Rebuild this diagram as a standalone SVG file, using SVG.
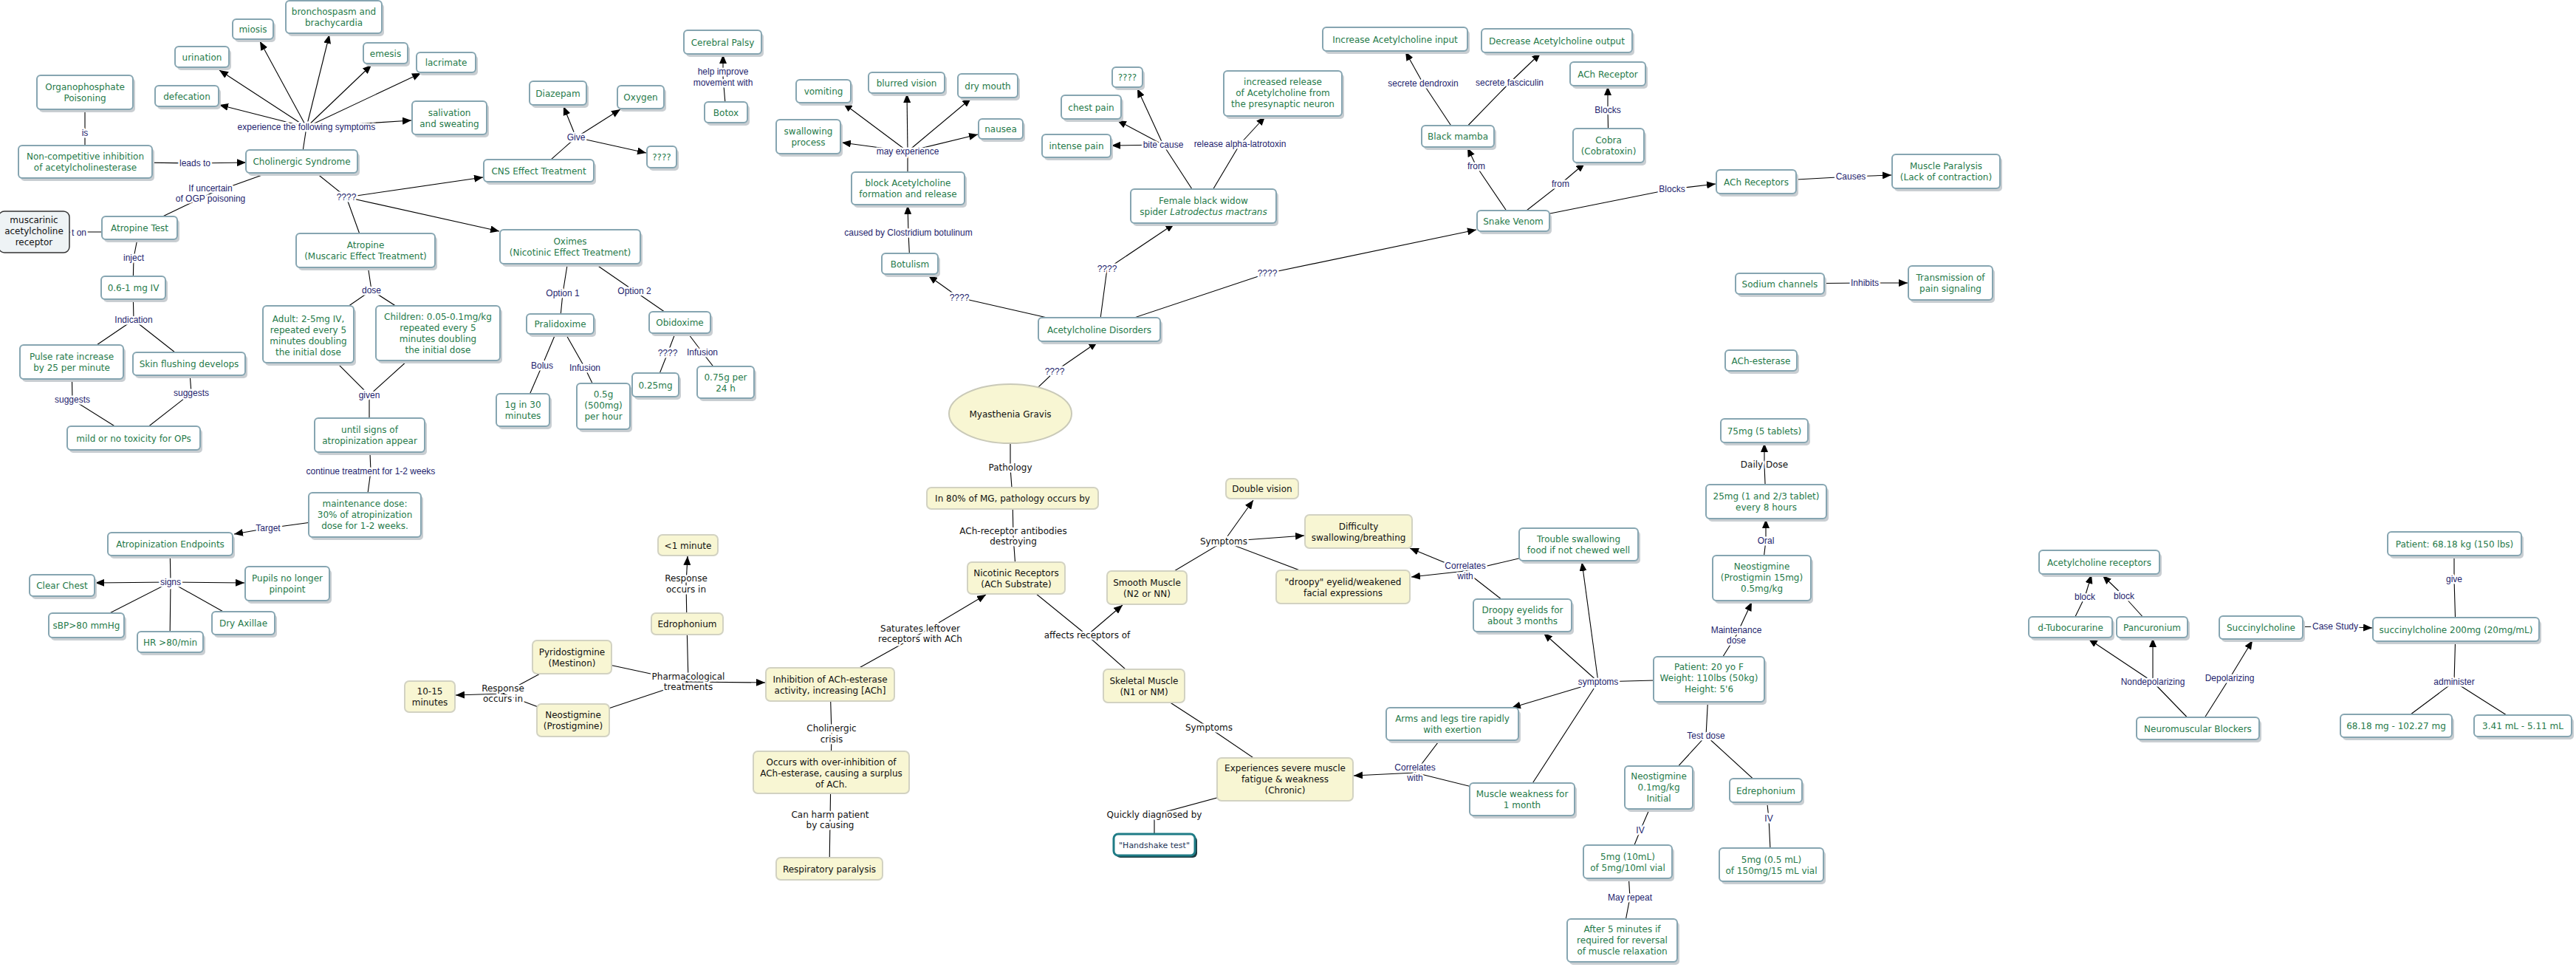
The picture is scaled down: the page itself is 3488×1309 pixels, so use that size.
<svg xmlns="http://www.w3.org/2000/svg" width="3488" height="1309" viewBox="0 0 3488 1309">
<defs>
<marker id="ah" markerUnits="userSpaceOnUse" markerWidth="13" markerHeight="10" refX="12" refY="5" orient="auto"><path d="M0,0 L12,5 L0,10 z" fill="#000"/></marker>
<style>
.sh{fill:#c9ced2;rx:5px}
.bx{fill:#fff;stroke:#86a5b1;stroke-width:2;rx:5px}
.tx{font-family:"DejaVu Sans",Verdana,sans-serif;font-size:12px;fill:#267a4a;text-anchor:middle}
.yb{fill:#f8f6d3;stroke:#d2d2c2;stroke-width:2;rx:6px}
.yt{font-family:"DejaVu Sans",Verdana,sans-serif;font-size:12px;fill:#111;text-anchor:middle}
.c{stroke:#000;stroke-width:1.1;fill:none}
.a{stroke:#000;stroke-width:1.1;fill:none;marker-end:url(#ah)}
.l{font-family:"Liberation Sans",Arial,sans-serif;font-size:12px;fill:#1e1e6e;text-anchor:middle;stroke:#fff;stroke-width:5px;paint-order:stroke;stroke-linejoin:round}
.lk{font-family:"DejaVu Sans",Verdana,sans-serif;font-size:12px;fill:#111;text-anchor:middle;stroke:#fff;stroke-width:5px;paint-order:stroke;stroke-linejoin:round}
</style>
</defs>
<rect width="3488" height="1309" fill="#fff"/>
<g id="connectors">
<path class="c" d="M115 125L115 180L115 219 M115 219L264 221 M408 218L415 172 M408 218L285 262L189 308 M408 218L469 267 M469 267L495 339 M60 314L160 314 M189 308L181 349L180 389L181 433 M181 433L97 490 M181 433L256 492 M97 490L98 541L181 593 M256 492L259 532L181 593 M495 339L503 393L417 452 M503 393L593 451 M417 452L500 535L593 451 M500 535L500 589L502 638L494 697L363 715 M230 736L231 788L117 846 M231 788L230 869 M231 788L329 843 M772 334L762 397L758 438L734 495L708 555 M758 438L792 498L817 550 M772 334L859 394L920 436L904 478L887 521 M920 436L951 477L982 517 M729 231L780 186 M983 152L979 104 M1229 255L1229 205 M1232 357L1230 315 M1488 446L1299 403 M1488 446L1499 364 M1488 446L1716 370 M1629 279L1575 196 M1629 279L1679 195 M1974 184L1927 113 M1974 184L2044 112 M2178 197L2177 149 M2049 299L1999 225 M2049 299L2113 249 M2049 299L2264 256 M2378 246L2506 239 M2410 384L2525 383 M1368 560L1428 503 M1368 560L1368 633L1371 674L1372 726L1376 782L1472 860L1549 928L1637 985L1740 1055L1563 1103L1563 1143 M1124 926L1246 858 M930 844L929 790 M774 889L681 939 M776 975L681 939 M774 889L932 923 M776 975L932 923 M930 844L932 923 M1124 926L1126 993L1125 1045L1124 1110L1123 1176 M1553 795L1657 733L1818 794 M2137 737L1984 773 M2061 833L1984 773 M2314 919L2164 923L2061 1082 M1966 980L1916 1046 M2061 1082L1916 1046 M2314 919L2310 996L2246 1066L2221 1124L2204 1166L2207 1215L2196 1273 M2310 996L2391 1070L2395 1108L2398 1170 M2314 919L2351 860 M2385 782L2391 732 M2391 679L2389 629 M2803 849L2823 808 M2914 849L2876 807 M3061 849L3162 848 M3323 736L3323 784L3325 852L3323 923L3244 982 M3323 923L3416 982 M2976 986L2915 923 M2976 986L3019 918"/>
<path class="a" d="M264 221L333 220"/>
<path class="a" d="M415 172L297 142"/>
<path class="a" d="M415 172L297 95"/>
<path class="a" d="M415 172L352 56"/>
<path class="a" d="M415 172L446 47"/>
<path class="a" d="M415 172L503 88"/>
<path class="a" d="M415 172L570 99"/>
<path class="a" d="M415 172L557 163"/>
<path class="a" d="M469 267L654 240"/>
<path class="a" d="M469 267L676 313"/>
<path class="a" d="M363 715L317 723"/>
<path class="a" d="M231 788L129 789"/>
<path class="a" d="M231 788L331 789"/>
<path class="a" d="M780 186L763 144"/>
<path class="a" d="M780 186L840 148"/>
<path class="a" d="M780 186L875 207"/>
<path class="a" d="M979 104L979 74"/>
<path class="a" d="M1229 205L1142 140"/>
<path class="a" d="M1229 205L1228 127"/>
<path class="a" d="M1229 205L1315 133"/>
<path class="a" d="M1229 205L1140 193"/>
<path class="a" d="M1229 205L1324 182"/>
<path class="a" d="M1230 315L1229 278"/>
<path class="a" d="M1299 403L1257 373"/>
<path class="a" d="M1499 364L1590 303"/>
<path class="a" d="M1716 370L1999 311"/>
<path class="a" d="M1575 196L1540 120"/>
<path class="a" d="M1575 196L1513 163"/>
<path class="a" d="M1575 196L1505 197"/>
<path class="a" d="M1679 195L1713 158"/>
<path class="a" d="M1927 113L1903 70"/>
<path class="a" d="M2044 112L2086 72"/>
<path class="a" d="M2177 149L2177 117"/>
<path class="a" d="M1999 225L1987 200"/>
<path class="a" d="M2113 249L2146 221"/>
<path class="a" d="M2264 256L2323 249"/>
<path class="a" d="M2506 239L2561 237"/>
<path class="a" d="M2525 383L2583 383"/>
<path class="a" d="M1428 503L1486 463"/>
<path class="a" d="M1472 860L1520 819"/>
<path class="a" d="M1246 858L1335 805"/>
<path class="a" d="M929 790L931 753"/>
<path class="a" d="M681 939L617 941"/>
<path class="a" d="M932 923L1036 924"/>
<path class="a" d="M1657 733L1697 677"/>
<path class="a" d="M1657 733L1766 725"/>
<path class="a" d="M1984 773L1909 742"/>
<path class="a" d="M1984 773L1911 781"/>
<path class="a" d="M2164 923L2090 857"/>
<path class="a" d="M2164 923L2142 761"/>
<path class="a" d="M2164 923L2047 958"/>
<path class="a" d="M1916 1046L1833 1050"/>
<path class="a" d="M2351 860L2372 815"/>
<path class="a" d="M2391 732L2391 703"/>
<path class="a" d="M2389 629L2389 600"/>
<path class="a" d="M2823 808L2832 778"/>
<path class="a" d="M2876 807L2847 779"/>
<path class="a" d="M3162 848L3212 850"/>
<path class="a" d="M2915 923L2828 865"/>
<path class="a" d="M2915 923L2915 864"/>
<path class="a" d="M3019 918L3050 867"/>
</g>
<g id="connector-labels">
<text class="l" x="115" y="184">is</text>
<text class="l" x="264" y="225">leads to</text>
<text class="l" x="415" y="176">experience the following symptoms</text>
<text class="l"><tspan x="285" y="259">If uncertain</tspan><tspan x="285" y="273">of OGP poisoning</tspan></text>
<text class="l" x="469" y="271">????</text>
<text class="l" x="107" y="319">t on</text>
<text class="l" x="181" y="353">inject</text>
<text class="l" x="181" y="437">Indication</text>
<text class="l" x="98" y="545">suggests</text>
<text class="l" x="259" y="536">suggests</text>
<text class="l" x="503" y="397">dose</text>
<text class="l" x="500" y="539">given</text>
<text class="l" x="502" y="642">continue treatment for 1-2 weeks</text>
<text class="l" x="363" y="719">Target</text>
<text class="l" x="231" y="792">signs</text>
<text class="l" x="762" y="401">Option 1</text>
<text class="l" x="859" y="398">Option 2</text>
<text class="l" x="734" y="499">Bolus</text>
<text class="l" x="792" y="502">Infusion</text>
<text class="l" x="904" y="482">????</text>
<text class="l" x="951" y="481">Infusion</text>
<text class="l" x="780" y="190">Give</text>
<text class="l"><tspan x="979" y="101">help improve</tspan><tspan x="979" y="116">movement with</tspan></text>
<text class="l" x="1229" y="209">may experience</text>
<text class="l" x="1230" y="319">caused by Clostridium botulinum</text>
<text class="l" x="1299" y="407">????</text>
<text class="l" x="1499" y="368">????</text>
<text class="l" x="1716" y="374">????</text>
<text class="l" x="1575" y="200">bite cause</text>
<text class="l" x="1679" y="199">release alpha-latrotoxin</text>
<text class="l" x="1927" y="117">secrete dendroxin</text>
<text class="l" x="2044" y="116">secrete fasciculin</text>
<text class="l" x="2177" y="153">Blocks</text>
<text class="l" x="1999" y="229">from</text>
<text class="l" x="2113" y="253">from</text>
<text class="l" x="2264" y="260">Blocks</text>
<text class="l" x="2506" y="243">Causes</text>
<text class="l" x="2525" y="387">Inhibits</text>
<text class="l" x="1428" y="507">????</text>
<text class="l" x="2391" y="736">Oral</text>
<text class="l"><tspan x="2351" y="857">Maintenance</tspan><tspan x="2351" y="871">dose</tspan></text>
<text class="l"><tspan x="1984" y="770">Correlates</tspan><tspan x="1984" y="784">with</tspan></text>
<text class="l" x="2164" y="927">symptoms</text>
<text class="l"><tspan x="1916" y="1043">Correlates</tspan><tspan x="1916" y="1057">with</tspan></text>
<text class="l" x="2310" y="1000">Test dose</text>
<text class="l" x="2221" y="1128">IV</text>
<text class="l" x="2395" y="1112">IV</text>
<text class="l" x="2207" y="1219">May repeat</text>
<text class="l" x="2823" y="812">block</text>
<text class="l" x="2876" y="811">block</text>
<text class="l" x="3162" y="852">Case Study</text>
<text class="l" x="3323" y="788">give</text>
<text class="l" x="2915" y="927">Nondepolarizing</text>
<text class="l" x="3019" y="922">Depolarizing</text>
<text class="l" x="3323" y="927">administer</text>
<text class="lk" x="1368" y="637">Pathology</text>
<text class="lk"><tspan x="1372" y="723">ACh-receptor antibodies</tspan><tspan x="1372" y="737">destroying</tspan></text>
<text class="lk"><tspan x="929" y="787">Response</tspan><tspan x="929" y="802">occurs in</tspan></text>
<text class="lk" x="1657" y="737">Symptoms</text>
<text class="lk"><tspan x="1246" y="855">Saturates leftover</tspan><tspan x="1246" y="869">receptors with ACh</tspan></text>
<text class="lk" x="1472" y="864">affects receptors of</text>
<text class="lk"><tspan x="681" y="936">Response</tspan><tspan x="681" y="950">occurs in</tspan></text>
<text class="lk"><tspan x="932" y="920">Pharmacological</tspan><tspan x="932" y="934">treatments</tspan></text>
<text class="lk"><tspan x="1126" y="990">Cholinergic</tspan><tspan x="1126" y="1005">crisis</tspan></text>
<text class="lk"><tspan x="1124" y="1107">Can harm patient</tspan><tspan x="1124" y="1121">by causing</tspan></text>
<text class="lk" x="1637" y="989">Symptoms</text>
<text class="lk" x="1563" y="1107">Quickly diagnosed by</text>
<text class="lk" x="2389" y="633">Daily Dose</text>
</g>
<g id="nodes">
<g id="n-organo"><rect class="sh" x="53" y="106" width="130" height="46"/><rect class="bx" x="50" y="102" width="130" height="46"/><text class="tx"><tspan x="115" y="122">Organophosphate</tspan><tspan x="115" y="137">Poisoning</tspan></text></g>
<g id="n-noncomp"><rect class="sh" x="28" y="201" width="181" height="44"/><rect class="bx" x="25" y="197" width="181" height="44"/><text class="tx"><tspan x="115.5" y="216">Non-competitive inhibition</tspan><tspan x="115.5" y="231">of acetylcholinesterase</tspan></text></g>
<g id="n-cholinergic"><rect class="sh" x="336" y="207" width="151" height="31"/><rect class="bx" x="333" y="203" width="151" height="31"/><text class="tx" x="408.5" y="223">Cholinergic Syndrome</text></g>
<g id="n-defecation"><rect class="sh" x="213" y="120" width="86" height="28"/><rect class="bx" x="210" y="116" width="86" height="28"/><text class="tx" x="253" y="134.5">defecation</text></g>
<g id="n-urination"><rect class="sh" x="240" y="67" width="73" height="28"/><rect class="bx" x="237" y="63" width="73" height="28"/><text class="tx" x="273.5" y="81.5">urination</text></g>
<g id="n-miosis"><rect class="sh" x="318" y="30" width="55" height="27"/><rect class="bx" x="315" y="26" width="55" height="27"/><text class="tx" x="342.5" y="44">miosis</text></g>
<g id="n-broncho"><rect class="sh" x="390" y="5" width="130" height="44"/><rect class="bx" x="387" y="1" width="130" height="44"/><text class="tx"><tspan x="452" y="20">bronchospasm and</tspan><tspan x="452" y="35">brachycardia</tspan></text></g>
<g id="n-emesis"><rect class="sh" x="495" y="62" width="60" height="28"/><rect class="bx" x="492" y="58" width="60" height="28"/><text class="tx" x="522" y="76.5">emesis</text></g>
<g id="n-lacrimate"><rect class="sh" x="567" y="75" width="80" height="27"/><rect class="bx" x="564" y="71" width="80" height="27"/><text class="tx" x="604" y="89">lacrimate</text></g>
<g id="n-salivation"><rect class="sh" x="561" y="141" width="101" height="45"/><rect class="bx" x="558" y="137" width="101" height="45"/><text class="tx"><tspan x="608.5" y="156.5">salivation</tspan><tspan x="608.5" y="171.5">and sweating</tspan></text></g>
<g id="n-cns"><rect class="sh" x="658" y="220" width="149" height="30"/><rect class="bx" x="655" y="216" width="149" height="30"/><text class="tx" x="729.5" y="235.5">CNS Effect Treatment</text></g>
<g id="n-diazepam"><rect class="sh" x="720" y="114" width="77" height="32"/><rect class="bx" x="717" y="110" width="77" height="32"/><text class="tx" x="755.5" y="130.5">Diazepam</text></g>
<g id="n-oxygen"><rect class="sh" x="839" y="120" width="63" height="31"/><rect class="bx" x="836" y="116" width="63" height="31"/><text class="tx" x="867.5" y="136">Oxygen</text></g>
<g id="n-q-give"><rect class="sh" x="879" y="202" width="40" height="29"/><rect class="bx" x="876" y="198" width="40" height="29"/><text class="tx" x="896" y="217">????</text></g>
<g id="n-muscarinic"><rect x="-2" y="286" width="96" height="56" rx="8" fill="#eef3f5" stroke="#333" stroke-width="1.5"/><text class="yt"><tspan x="46" y="302">muscarinic</tspan><tspan x="46" y="317">acetylcholine</tspan><tspan x="46" y="332">receptor</tspan></text></g>
<g id="n-atropine-test"><rect class="sh" x="141" y="297" width="102" height="31"/><rect class="bx" x="138" y="293" width="102" height="31"/><text class="tx" x="189" y="313">Atropine Test</text></g>
<g id="n-atropine"><rect class="sh" x="404" y="320" width="188" height="46"/><rect class="bx" x="401" y="316" width="188" height="46"/><text class="tx"><tspan x="495" y="336">Atropine</tspan><tspan x="495" y="351">(Muscaric Effect Treatment)</tspan></text></g>
<g id="n-oximes"><rect class="sh" x="680" y="315" width="190" height="46"/><rect class="bx" x="677" y="311" width="190" height="46"/><text class="tx"><tspan x="772" y="331">Oximes</tspan><tspan x="772" y="346">(Nicotinic Effect Treatment)</tspan></text></g>
<g id="n-06mg"><rect class="sh" x="140" y="378" width="87" height="31"/><rect class="bx" x="137" y="374" width="87" height="31"/><text class="tx" x="180.5" y="394">0.6-1 mg IV</text></g>
<g id="n-pulse"><rect class="sh" x="30" y="471" width="140" height="46"/><rect class="bx" x="27" y="467" width="140" height="46"/><text class="tx"><tspan x="97" y="487">Pulse rate increase</tspan><tspan x="97" y="502">by 25 per minute</tspan></text></g>
<g id="n-skin"><rect class="sh" x="183" y="481" width="152" height="31"/><rect class="bx" x="180" y="477" width="152" height="31"/><text class="tx" x="256" y="497">Skin flushing develops</text></g>
<g id="n-mild"><rect class="sh" x="94" y="581" width="180" height="32"/><rect class="bx" x="91" y="577" width="180" height="32"/><text class="tx" x="181" y="597.5">mild or no toxicity for OPs</text></g>
<g id="n-adult"><rect class="sh" x="359" y="418" width="123" height="77"/><rect class="bx" x="356" y="414" width="123" height="77"/><text class="tx"><tspan x="417.5" y="436">Adult: 2-5mg IV,</tspan><tspan x="417.5" y="451">repeated every 5</tspan><tspan x="417.5" y="466">minutes doubling</tspan><tspan x="417.5" y="481">the initial dose</tspan></text></g>
<g id="n-children"><rect class="sh" x="512" y="418" width="168" height="74"/><rect class="bx" x="509" y="414" width="168" height="74"/><text class="tx"><tspan x="593" y="433">Children: 0.05-0.1mg/kg</tspan><tspan x="593" y="448">repeated every 5</tspan><tspan x="593" y="463">minutes doubling</tspan><tspan x="593" y="478">the initial dose</tspan></text></g>
<g id="n-pralidoxime"><rect class="sh" x="716" y="429" width="91" height="27"/><rect class="bx" x="713" y="425" width="91" height="27"/><text class="tx" x="758.5" y="443">Pralidoxime</text></g>
<g id="n-1g"><rect class="sh" x="675" y="537" width="72" height="44"/><rect class="bx" x="672" y="533" width="72" height="44"/><text class="tx"><tspan x="708" y="552">1g in 30</tspan><tspan x="708" y="567">minutes</tspan></text></g>
<g id="n-05g"><rect class="sh" x="784" y="523" width="72" height="62"/><rect class="bx" x="781" y="519" width="72" height="62"/><text class="tx"><tspan x="817" y="538">0.5g</tspan><tspan x="817" y="553">(500mg)</tspan><tspan x="817" y="568">per hour</tspan></text></g>
<g id="n-025mg"><rect class="sh" x="859" y="509" width="63" height="32"/><rect class="bx" x="856" y="505" width="63" height="32"/><text class="tx" x="887.5" y="525.5">0.25mg</text></g>
<g id="n-075g"><rect class="sh" x="947" y="500" width="77" height="43"/><rect class="bx" x="944" y="496" width="77" height="43"/><text class="tx"><tspan x="982.5" y="514.5">0.75g per</tspan><tspan x="982.5" y="529.5">24 h</tspan></text></g>
<g id="n-obidoxime"><rect class="sh" x="882" y="426" width="83" height="29"/><rect class="bx" x="879" y="422" width="83" height="29"/><text class="tx" x="920.5" y="441">Obidoxime</text></g>
<g id="n-until"><rect class="sh" x="429" y="570" width="149" height="46"/><rect class="bx" x="426" y="566" width="149" height="46"/><text class="tx"><tspan x="500.5" y="586">until signs of</tspan><tspan x="500.5" y="601">atropinization appear</tspan></text></g>
<g id="n-maint"><rect class="sh" x="421" y="671" width="152" height="60"/><rect class="bx" x="418" y="667" width="152" height="60"/><text class="tx"><tspan x="494" y="686">maintenance dose:</tspan><tspan x="494" y="701">30% of atropinization</tspan><tspan x="494" y="716">dose for 1-2 weeks.</tspan></text></g>
<g id="n-endpoints"><rect class="sh" x="149" y="725" width="169" height="31"/><rect class="bx" x="146" y="721" width="169" height="31"/><text class="tx" x="230.5" y="741">Atropinization Endpoints</text></g>
<g id="n-clear"><rect class="sh" x="43" y="782" width="88" height="29"/><rect class="bx" x="40" y="778" width="88" height="29"/><text class="tx" x="84" y="797">Clear Chest</text></g>
<g id="n-pupils"><rect class="sh" x="335" y="771" width="114" height="46"/><rect class="bx" x="332" y="767" width="114" height="46"/><text class="tx"><tspan x="389" y="787">Pupils no longer</tspan><tspan x="389" y="802">pinpoint</tspan></text></g>
<g id="n-sbp"><rect class="sh" x="69" y="834" width="102" height="33"/><rect class="bx" x="66" y="830" width="102" height="33"/><text class="tx" x="117" y="851">sBP&gt;80 mmHg</text></g>
<g id="n-dry"><rect class="sh" x="290" y="832" width="85" height="31"/><rect class="bx" x="287" y="828" width="85" height="31"/><text class="tx" x="329.5" y="848">Dry Axillae</text></g>
<g id="n-hr"><rect class="sh" x="189" y="859" width="89" height="28"/><rect class="bx" x="186" y="855" width="89" height="28"/><text class="tx" x="230.5" y="873.5">HR &gt;80/min</text></g>
<g id="n-cerebral"><rect class="sh" x="929" y="45" width="105" height="32"/><rect class="bx" x="926" y="41" width="105" height="32"/><text class="tx" x="978.5" y="61.5">Cerebral Palsy</text></g>
<g id="n-botox"><rect class="sh" x="957" y="142" width="58" height="28"/><rect class="bx" x="954" y="138" width="58" height="28"/><text class="tx" x="983" y="156.5">Botox</text></g>
<g id="n-vomiting"><rect class="sh" x="1081" y="112" width="74" height="31"/><rect class="bx" x="1078" y="108" width="74" height="31"/><text class="tx" x="1115" y="128">vomiting</text></g>
<g id="n-blurred"><rect class="sh" x="1179" y="102" width="103" height="28"/><rect class="bx" x="1176" y="98" width="103" height="28"/><text class="tx" x="1227.5" y="116.5">blurred vision</text></g>
<g id="n-drymouth"><rect class="sh" x="1300" y="104" width="81" height="32"/><rect class="bx" x="1297" y="100" width="81" height="32"/><text class="tx" x="1337.5" y="120.5">dry mouth</text></g>
<g id="n-swallowing"><rect class="sh" x="1054" y="166" width="87" height="46"/><rect class="bx" x="1051" y="162" width="87" height="46"/><text class="tx"><tspan x="1094.5" y="182">swallowing</tspan><tspan x="1094.5" y="197">process</tspan></text></g>
<g id="n-nausea"><rect class="sh" x="1328" y="165" width="60" height="27"/><rect class="bx" x="1325" y="161" width="60" height="27"/><text class="tx" x="1355" y="179">nausea</text></g>
<g id="n-block"><rect class="sh" x="1156" y="237" width="153" height="44"/><rect class="bx" x="1153" y="233" width="153" height="44"/><text class="tx"><tspan x="1229.5" y="252">block Acetylcholine</tspan><tspan x="1229.5" y="267">formation and release</tspan></text></g>
<g id="n-botulism"><rect class="sh" x="1197" y="347" width="76" height="28"/><rect class="bx" x="1194" y="343" width="76" height="28"/><text class="tx" x="1232" y="361.5">Botulism</text></g>
<g id="n-q-bite"><rect class="sh" x="1509" y="95" width="41" height="27"/><rect class="bx" x="1506" y="91" width="41" height="27"/><text class="tx" x="1526.5" y="109">????</text></g>
<g id="n-chest"><rect class="sh" x="1440" y="133" width="81" height="32"/><rect class="bx" x="1437" y="129" width="81" height="32"/><text class="tx" x="1477.5" y="149.5">chest pain</text></g>
<g id="n-intense"><rect class="sh" x="1414" y="186" width="93" height="31"/><rect class="bx" x="1411" y="182" width="93" height="31"/><text class="tx" x="1457.5" y="202">intense pain</text></g>
<g id="n-widow"><rect class="sh" x="1534" y="260" width="197" height="46"/><rect class="bx" x="1531" y="256" width="197" height="46"/><text class="tx"><tspan x="1629.5" y="276">Female black widow</tspan><tspan x="1629.5" y="291">spider <tspan font-style="italic">Latrodectus mactrans</tspan></tspan></text></g>
<g id="n-increased"><rect class="sh" x="1660" y="100" width="160" height="61"/><rect class="bx" x="1657" y="96" width="160" height="61"/><text class="tx"><tspan x="1737" y="115">increased release</tspan><tspan x="1737" y="130">of Acetylcholine from</tspan><tspan x="1737" y="145">the presynaptic neuron</tspan></text></g>
<g id="n-disorders"><rect class="sh" x="1409" y="434" width="165" height="32"/><rect class="bx" x="1406" y="430" width="165" height="32"/><text class="tx" x="1488.5" y="450.5">Acetylcholine Disorders</text></g>
<g id="n-increase"><rect class="sh" x="1794" y="41" width="196" height="32"/><rect class="bx" x="1791" y="37" width="196" height="32"/><text class="tx" x="1889" y="57.5">Increase Acetylcholine input</text></g>
<g id="n-decrease"><rect class="sh" x="2009" y="43" width="204" height="32"/><rect class="bx" x="2006" y="39" width="204" height="32"/><text class="tx" x="2108" y="59.5">Decrease Acetylcholine output</text></g>
<g id="n-achreceptor"><rect class="sh" x="2129" y="88" width="102" height="32"/><rect class="bx" x="2126" y="84" width="102" height="32"/><text class="tx" x="2177" y="104.5">ACh Receptor</text></g>
<g id="n-mamba"><rect class="sh" x="1928" y="174" width="98" height="29"/><rect class="bx" x="1925" y="170" width="98" height="29"/><text class="tx" x="1974" y="189">Black mamba</text></g>
<g id="n-cobra"><rect class="sh" x="2133" y="178" width="96" height="46"/><rect class="bx" x="2130" y="174" width="96" height="46"/><text class="tx"><tspan x="2178" y="194">Cobra</tspan><tspan x="2178" y="209">(Cobratoxin)</tspan></text></g>
<g id="n-venom"><rect class="sh" x="2003" y="289" width="98" height="28"/><rect class="bx" x="2000" y="285" width="98" height="28"/><text class="tx" x="2049" y="303.5">Snake Venom</text></g>
<g id="n-achreceptors"><rect class="sh" x="2327" y="234" width="108" height="32"/><rect class="bx" x="2324" y="230" width="108" height="32"/><text class="tx" x="2378" y="250.5">ACh Receptors</text></g>
<g id="n-paralysis"><rect class="sh" x="2565" y="213" width="146" height="46"/><rect class="bx" x="2562" y="209" width="146" height="46"/><text class="tx"><tspan x="2635" y="229">Muscle Paralysis</tspan><tspan x="2635" y="244">(Lack of contraction)</tspan></text></g>
<g id="n-sodium"><rect class="sh" x="2353" y="374" width="120" height="28"/><rect class="bx" x="2350" y="370" width="120" height="28"/><text class="tx" x="2410" y="388.5">Sodium channels</text></g>
<g id="n-transmission"><rect class="sh" x="2587" y="364" width="114" height="46"/><rect class="bx" x="2584" y="360" width="114" height="46"/><text class="tx"><tspan x="2641" y="380">Transmission of</tspan><tspan x="2641" y="395">pain signaling</tspan></text></g>
<g id="n-esterase"><rect class="sh" x="2339" y="478" width="97" height="28"/><rect class="bx" x="2336" y="474" width="97" height="28"/><text class="tx" x="2384.5" y="492.5">ACh-esterase</text></g>
<g id="n-75mg"><rect class="sh" x="2333" y="571" width="118" height="32"/><rect class="bx" x="2330" y="567" width="118" height="32"/><text class="tx" x="2389" y="587.5">75mg (5 tablets)</text></g>
<g id="n-25mg"><rect class="sh" x="2313" y="660" width="163" height="46"/><rect class="bx" x="2310" y="656" width="163" height="46"/><text class="tx"><tspan x="2391.5" y="676">25mg (1 and 2/3 tablet)</tspan><tspan x="2391.5" y="691">every 8 hours</tspan></text></g>
<g id="n-neo15"><rect class="sh" x="2322" y="756" width="133" height="61"/><rect class="bx" x="2319" y="752" width="133" height="61"/><text class="tx"><tspan x="2385.5" y="771">Neostigmine</tspan><tspan x="2385.5" y="786">(Prostigmin 15mg)</tspan><tspan x="2385.5" y="801">0.5mg/kg</tspan></text></g>
<g id="n-trouble"><rect class="sh" x="2060" y="719" width="161" height="44"/><rect class="bx" x="2057" y="715" width="161" height="44"/><text class="tx"><tspan x="2137.5" y="734">Trouble swallowing</tspan><tspan x="2137.5" y="749">food if not chewed well</tspan></text></g>
<g id="n-droopy-eyelids"><rect class="sh" x="1998" y="815" width="133" height="44"/><rect class="bx" x="1995" y="811" width="133" height="44"/><text class="tx"><tspan x="2061.5" y="830">Droopy eyelids for</tspan><tspan x="2061.5" y="845">about 3 months</tspan></text></g>
<g id="n-patient20"><rect class="sh" x="2242" y="893" width="150" height="61"/><rect class="bx" x="2239" y="889" width="150" height="61"/><text class="tx"><tspan x="2314" y="907">Patient: 20 yo F</tspan><tspan x="2314" y="922">Weight: 110lbs (50kg)</tspan><tspan x="2314" y="937">Height: 5'6</tspan></text></g>
<g id="n-arms"><rect class="sh" x="1880" y="962" width="179" height="44"/><rect class="bx" x="1877" y="958" width="179" height="44"/><text class="tx"><tspan x="1966.5" y="977">Arms and legs tire rapidly</tspan><tspan x="1966.5" y="992">with exertion</tspan></text></g>
<g id="n-weakness"><rect class="sh" x="1993" y="1064" width="142" height="44"/><rect class="bx" x="1990" y="1060" width="142" height="44"/><text class="tx"><tspan x="2061" y="1079">Muscle weakness for</tspan><tspan x="2061" y="1094">1 month</tspan></text></g>
<g id="n-neo01"><rect class="sh" x="2203" y="1041" width="92" height="58"/><rect class="bx" x="2200" y="1037" width="92" height="58"/><text class="tx"><tspan x="2246" y="1055">Neostigmine</tspan><tspan x="2246" y="1070">0.1mg/kg</tspan><tspan x="2246" y="1085">Initial</tspan></text></g>
<g id="n-edrephonium"><rect class="sh" x="2345" y="1058" width="98" height="32"/><rect class="bx" x="2342" y="1054" width="98" height="32"/><text class="tx" x="2391" y="1074.5">Edrephonium</text></g>
<g id="n-5mg10"><rect class="sh" x="2147" y="1148" width="120" height="45"/><rect class="bx" x="2144" y="1144" width="120" height="45"/><text class="tx"><tspan x="2204" y="1163.5">5mg (10mL)</tspan><tspan x="2204" y="1178.5">of 5mg/10ml vial</tspan></text></g>
<g id="n-5mg05"><rect class="sh" x="2331" y="1152" width="141" height="45"/><rect class="bx" x="2328" y="1148" width="141" height="45"/><text class="tx"><tspan x="2398.5" y="1167.5">5mg (0.5 mL)</tspan><tspan x="2398.5" y="1182.5">of 150mg/15 mL vial</tspan></text></g>
<g id="n-after5"><rect class="sh" x="2125" y="1248" width="149" height="58"/><rect class="bx" x="2122" y="1244" width="149" height="58"/><text class="tx"><tspan x="2196.5" y="1262">After 5 minutes if</tspan><tspan x="2196.5" y="1277">required for reversal</tspan><tspan x="2196.5" y="1292">of muscle relaxation</tspan></text></g>
<g id="n-achr"><rect class="sh" x="2764" y="749" width="163" height="32"/><rect class="bx" x="2761" y="745" width="163" height="32"/><text class="tx" x="2842.5" y="765.5">Acetylcholine receptors</text></g>
<g id="n-dtubo"><rect class="sh" x="2750" y="839" width="113" height="28"/><rect class="bx" x="2747" y="835" width="113" height="28"/><text class="tx" x="2803.5" y="853.5">d-Tubocurarine</text></g>
<g id="n-pancuronium"><rect class="sh" x="2869" y="839" width="96" height="28"/><rect class="bx" x="2866" y="835" width="96" height="28"/><text class="tx" x="2914" y="853.5">Pancuronium</text></g>
<g id="n-succ"><rect class="sh" x="3008" y="838" width="113" height="31"/><rect class="bx" x="3005" y="834" width="113" height="31"/><text class="tx" x="3061.5" y="854">Succinylcholine</text></g>
<g id="n-succ200"><rect class="sh" x="3216" y="840" width="225" height="32"/><rect class="bx" x="3213" y="836" width="225" height="32"/><text class="tx" x="3325.5" y="856.5">succinylcholine 200mg (20mg/mL)</text></g>
<g id="n-patient68"><rect class="sh" x="3236" y="724" width="181" height="32"/><rect class="bx" x="3233" y="720" width="181" height="32"/><text class="tx" x="3323.5" y="740.5">Patient: 68.18 kg (150 lbs)</text></g>
<g id="n-nmb"><rect class="sh" x="2896" y="975" width="166" height="30"/><rect class="bx" x="2893" y="971" width="166" height="30"/><text class="tx" x="2976" y="990.5">Neuromuscular Blockers</text></g>
<g id="n-68mg"><rect class="sh" x="3172" y="971" width="151" height="31"/><rect class="bx" x="3169" y="967" width="151" height="31"/><text class="tx" x="3244.5" y="987">68.18 mg - 102.27 mg</text></g>
<g id="n-341ml"><rect class="sh" x="3353" y="972" width="132" height="29"/><rect class="bx" x="3350" y="968" width="132" height="29"/><text class="tx" x="3416" y="987">3.41 mL - 5.11 mL</text></g>
<g id="y-mg"><ellipse cx="1368" cy="560" rx="83" ry="40" fill="#f8f6d3" stroke="#c9c9b8" stroke-width="2"/><text class="yt" x="1368" y="564.5">Myasthenia Gravis</text></g>
<g id="y-in80"><rect class="yb" x="1255" y="660" width="232" height="29"/><text class="yt" x="1371" y="679">In 80% of MG, pathology occurs by</text></g>
<g id="y-nicotinic"><rect class="yb" x="1310" y="761" width="132" height="43"/><text class="yt"><tspan x="1376" y="779.5">Nicotinic Receptors</tspan><tspan x="1376" y="794.5">(ACh Substrate)</tspan></text></g>
<g id="y-1min"><rect class="yb" x="891" y="724" width="81" height="28"/><text class="yt" x="931.5" y="742.5">&lt;1 minute</text></g>
<g id="y-edrophonium"><rect class="yb" x="882" y="830" width="97" height="29"/><text class="yt" x="930.5" y="849">Edrophonium</text></g>
<g id="y-double"><rect class="yb" x="1660" y="648" width="98" height="27"/><text class="yt" x="1709" y="666">Double vision</text></g>
<g id="y-smooth"><rect class="yb" x="1499" y="773" width="108" height="45"/><text class="yt"><tspan x="1553" y="792.5">Smooth Muscle</tspan><tspan x="1553" y="807.5">(N2 or NN)</tspan></text></g>
<g id="y-difficulty"><rect class="yb" x="1767" y="697" width="145" height="45"/><text class="yt"><tspan x="1839.5" y="716.5">Difficulty</tspan><tspan x="1839.5" y="731.5">swallowing/breathing</tspan></text></g>
<g id="y-droopy"><rect class="yb" x="1728" y="772" width="181" height="45"/><text class="yt"><tspan x="1818.5" y="791.5">"droopy" eyelid/weakened</tspan><tspan x="1818.5" y="806.5">facial expressions</tspan></text></g>
<g id="y-pyrido"><rect class="yb" x="721" y="867" width="107" height="45"/><text class="yt"><tspan x="774.5" y="886.5">Pyridostigmine</tspan><tspan x="774.5" y="901.5">(Mestinon)</tspan></text></g>
<g id="y-1015"><rect class="yb" x="548" y="922" width="68" height="42"/><text class="yt"><tspan x="582" y="940">10-15</tspan><tspan x="582" y="955">minutes</tspan></text></g>
<g id="y-neostig"><rect class="yb" x="727" y="953" width="98" height="44"/><text class="yt"><tspan x="776" y="972">Neostigmine</tspan><tspan x="776" y="987">(Prostigmine)</tspan></text></g>
<g id="y-inhibition"><rect class="yb" x="1037" y="904" width="174" height="45"/><text class="yt"><tspan x="1124" y="923.5">Inhibition of ACh-esterase</tspan><tspan x="1124" y="938.5">activity, increasing [ACh]</tspan></text></g>
<g id="y-occurs"><rect class="yb" x="1020" y="1017" width="211" height="57"/><text class="yt"><tspan x="1125.5" y="1036">Occurs with over-inhibition of</tspan><tspan x="1125.5" y="1051">ACh-esterase, causing a surplus</tspan><tspan x="1125.5" y="1066">of ACh.</tspan></text></g>
<g id="y-resp"><rect class="yb" x="1051" y="1161" width="144" height="30"/><text class="yt" x="1123" y="1180.5">Respiratory paralysis</text></g>
<g id="y-skeletal"><rect class="yb" x="1494" y="906" width="110" height="45"/><text class="yt"><tspan x="1549" y="925.5">Skeletal Muscle</tspan><tspan x="1549" y="940.5">(N1 or NM)</tspan></text></g>
<g id="y-experiences"><rect class="yb" x="1648" y="1026" width="184" height="58"/><text class="yt"><tspan x="1740" y="1044">Experiences severe muscle</tspan><tspan x="1740" y="1059">fatigue &amp; weakness</tspan><tspan x="1740" y="1074">(Chronic)</tspan></text></g>
<g id="n-handshake"><rect x="1511" y="1132" width="110" height="29" rx="6" fill="#1d3b40"/><rect x="1508" y="1129" width="110" height="29" rx="6" fill="#fff" stroke="#1f7c86" stroke-width="3"/><text class="yt" x="1563" y="1148" style="font-size:11px;fill:#223355">"Handshake test"</text></g>
</g>
</svg>
